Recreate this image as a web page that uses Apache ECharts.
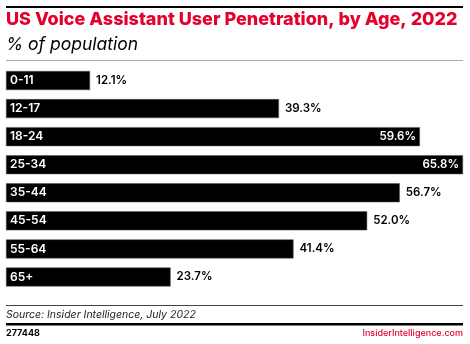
<!DOCTYPE html>
<html><head><meta charset="utf-8">
<script src="https://cdn.jsdelivr.net/npm/echarts@6/dist/echarts.min.js"></script>
<style>html,body{margin:0;padding:0;background:#fff}#c{width:470px;height:344px}</style>
</head><body><div id="c"></div>
<script>
const categories = ['0-11','12-17','18-24','25-34','35-44','45-54','55-64','65+'];
const values = [12.1, 39.3, 59.6, 65.8, 56.7, 52.0, 41.4, 23.7];
const titleText = 'US Voice Assistant User Penetration, by Age, 2022';
const subtitleText = '% of population';
const sourceText = 'Source: Insider Intelligence, July 2022';
const chartId = '277448';
const brand = 'InsiderIntelligence.com';

const FONT = 'Inter, "Noto Sans", sans-serif';
const chart = echarts.init(document.getElementById('c'), null, {renderer:'canvas'});
chart.setOption({
  animation:false,
  grid:{left:6, right:7, top:66.5, bottom:53, containLabel:false},
  xAxis:{type:'value', min:0, max:65.8, show:false},
  yAxis:{type:'category', data:categories, inverse:true, z:10,
    axisLine:{show:false}, axisTick:{show:false}, splitLine:{show:false},
    axisLabel:{inside:true, color:'#fff', fontFamily:FONT, fontWeight:600, fontSize:12, margin:4, align:'left'}},
  series:[{type:'bar', barWidth:19, itemStyle:{color:'#000', borderColor:'#555', borderWidth:0.5},
    label:{show:true, position:'right', distance:6, color:'#000', fontFamily:FONT, fontWeight:600, fontSize:11.5,
      formatter:p=>p.value.toFixed(1)+'%'},
    data:values.map(v=> v > 58 ? {value:v, label:{position:'insideRight', color:'#fff', distance:4}} : v)
  }],
  graphic:[
    {type:'rect', shape:{x:6, y:6, width:457, height:2}, style:{fill:'#000'}},
    {type:'text', left:6, top:11, style:{text:titleText, fill:'#e4002b', font:'800 18px '+FONT}},
    {type:'text', left:6, top:36, style:{text:subtitleText, fill:'#000', font:'italic 17.5px '+FONT}},
    {type:'rect', shape:{x:6, y:60, width:457, height:1}, style:{fill:'#aaa'}},
    {type:'rect', shape:{x:6, y:305, width:457, height:1}, style:{fill:'#444'}},
    {type:'text', left:6, top:309, style:{text:sourceText, fill:'#222', font:'italic 10.5px '+FONT}},
    {type:'rect', shape:{x:6, y:323, width:457, height:2.5}, style:{fill:'#000'}},
    {type:'text', left:6, top:329, style:{text:chartId, fill:'#000', font:'bold 9px '+FONT}},
    {type:'text', right:7, top:329, style:{text:brand, fill:'#e4002b', font:'500 9px '+FONT}}
  ]
});
</script></body></html>
